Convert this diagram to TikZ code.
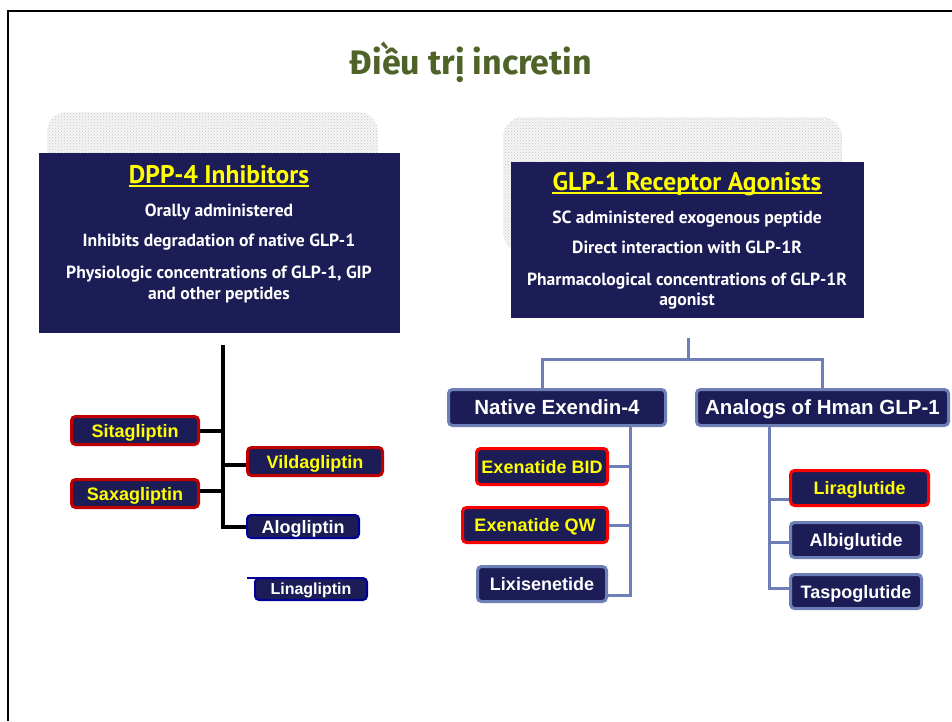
\documentclass[tikz,border=0pt]{standalone}
\usepackage{fontspec}
\setmainfont{Liberation Sans}
\newfontfamily\titlefont{Fira Sans}
\newfontfamily\bodyfont{PT Sans}
\usetikzlibrary{patterns}
\definecolor{navy}{HTML}{1C1C56}
\definecolor{darkred}{HTML}{C00000}
\definecolor{brightred}{HTML}{FF0000}
\definecolor{slate}{HTML}{6E7FB8}
\definecolor{deepblue}{HTML}{000099}
\definecolor{olive}{HTML}{4F6228}
\definecolor{hiyellow}{HTML}{FFFF00}
\tikzset{
  drug/.style={draw, fill=navy, rounded corners=4pt, inner sep=0pt,
    text height=13pt, text depth=0pt,
    font=\bfseries\fontsize{18}{20}\selectfont, align=center},
  keydrug/.style={drug, draw=darkred, line width=3pt, text=hiyellow},
  keydrugb/.style={drug, draw=brightred, line width=3pt, text=hiyellow},
  plaindrug/.style={drug, draw=deepblue, line width=2pt, text=white},
  slatedrug/.style={drug, draw=slate, line width=3pt, text=white},
  classbox/.style={drug, draw=slate, line width=3pt, text=white,
    text height=14.7pt, font=\bfseries\fontsize{20.5}{22}\selectfont},
  panel/.style={fill=navy, draw=none},
  halo/.style={pattern=crosshatch dots, pattern color=gray!45,
    rounded corners=20pt},
  hdr/.style={text=hiyellow, inner sep=0pt, anchor=base,
    font=\bodyfont\bfseries\fontsize{25.5}{28}\selectfont},
  bodyline/.style={text=white, inner sep=0pt, anchor=base,
    font=\bodyfont\bfseries\fontsize{17.6}{19}\selectfont},
  blackwire/.style={line width=4pt, black},
  slatewire/.style={line width=3pt, slate},
}
\begin{document}
\begin{tikzpicture}[x=1pt,y=-1pt]
\useasboundingbox (0,0) rectangle (952,721);
% slide frame
\draw[line width=2pt] (8,721) -- (8,10.5) -- (952,10.5);

% title
\node[anchor=base, inner sep=0pt, text=olive,
  font=\titlefont\bfseries\fontsize{34}{38}\selectfont] (title) at (471,74) {Điều trị incretin};

% dotted halos behind the two panels
\fill[gray!8,rounded corners=20pt] (47,112) rectangle (378,200);
\path[halo] (47,112) rectangle (378,200);
\fill[gray!8,rounded corners=20pt] (503,117) rectangle (842,252);
\path[halo] (503,117) rectangle (842,252);

% DPP-4 panel
\node[panel, minimum width=361pt, minimum height=180pt, inner sep=0pt] (dpp) at (219.5,243) {};
\node[hdr] (dpphdr) at (219,183) {DPP-4 Inhibitors};
\draw[hiyellow, line width=1.6pt] ([yshift=-3pt]dpphdr.base west) -- ([yshift=-3pt]dpphdr.base east);
\node[bodyline] (d1) at (219,216) {Orally administered};
\node[bodyline] (d2) at (219,246) {Inhibits degradation of native GLP-1};
\node[bodyline] (d3) at (219,278) {Physiologic concentrations of GLP-1, GIP};
\node[bodyline] (d4) at (219,299) {and other peptides};

% GLP-1 RA panel
\node[panel, minimum width=353pt, minimum height=156pt, inner sep=0pt] (glp) at (687.5,240) {};
\node[hdr] (glphdr) at (687,190) {GLP-1 Receptor Agonists};
\draw[hiyellow, line width=1.6pt] ([yshift=-3pt]glphdr.base west) -- ([yshift=-3pt]glphdr.base east);
\node[bodyline] (g1) at (687,223) {SC administered exogenous peptide};
\node[bodyline] (g2) at (687,253) {Direct interaction with GLP-1R};
\node[bodyline] (g3) at (687,285) {Pharmacological concentrations of GLP-1R};
\node[bodyline] (g4) at (687,305) {agonist};

% DPP-4 inhibitors
\node[keydrug, minimum width=127pt, minimum height=28pt] (sita) at (135,430.5) {Sitagliptin};
\node[keydrug, minimum width=135pt, minimum height=28pt] (vilda) at (315,461.5) {Vildagliptin};
\node[keydrug, minimum width=127pt, minimum height=28pt] (saxa) at (135,493.5) {Saxagliptin};
\node[plaindrug, minimum width=112pt, minimum height=23pt] (alo) at (303,526.5) {Alogliptin};
\node[plaindrug, minimum width=112pt, minimum height=22pt, text height=11.5pt,
  font=\bfseries\fontsize{16}{18}\selectfont] (lina) at (311,589) {Linagliptin};
\draw[deepblue, line width=2pt] (lina.north west) ++(4pt,-1pt) -- ++(-11pt,0);

\coordinate (ltop) at (223,345);
\draw[blackwire] (ltop) |- (alo.west);
\draw[blackwire] (sita.east) -- (sita.east -| ltop);
\draw[blackwire] ([yshift=-3pt]vilda.west) -- ([yshift=-3pt]vilda.west -| ltop);
\draw[blackwire] ([yshift=3pt]saxa.east) -- ([yshift=3pt]saxa.east -| ltop);

% GLP-1 receptor agonist classes
\node[classbox, minimum width=217pt, minimum height=36pt] (native) at (557,407.5) {Native Exendin-4};
\node[classbox, minimum width=252pt, minimum height=36pt] (analog) at (822.5,407.5) {Analogs of Hman GLP-1};

\node[keydrugb, minimum width=131pt, minimum height=36pt] (exbid) at (542,466.5) {Exenatide BID};
\node[keydrugb, minimum width=145pt, minimum height=35pt] (exqw) at (535,525) {Exenatide QW};
\node[slatedrug, minimum width=129pt, minimum height=35pt] (lixi) at (542,584) {Lixisenetide};

\node[keydrugb, minimum width=138pt, minimum height=35pt] (lira) at (859.5,488) {Liraglutide};
\node[slatedrug, minimum width=131pt, minimum height=35pt] (albi) at (856,540) {Albiglutide};
\node[slatedrug, minimum width=131pt, minimum height=34pt] (taspo) at (856,591.5) {Taspoglutide};

% connectors of the GLP-1 tree
\coordinate (rtop) at (688,338);
\coordinate (nspine) at ([xshift=73pt]native.south);
\coordinate (aspine) at ([xshift=-53.5pt]analog.south);
\draw[slatewire] (rtop) -- (rtop |- 0,359);
\draw[slatewire] ([xshift=-15pt]native.north) -- ++(0,-29) -| (analog.north);

\draw[slatewire] (nspine) |- ([yshift=-11pt]lixi.east);
\draw[slatewire] (exbid.east) -- (exbid.east -| nspine);
\draw[slatewire] (exqw.east) -- (exqw.east -| nspine);

\draw[slatewire] (aspine) |- ([yshift=3.5pt]taspo.west);
\draw[slatewire] ([yshift=-11pt]lira.west) -- ([yshift=-11pt]lira.west -| aspine);
\draw[slatewire] ([yshift=-2pt]albi.west) -- ([yshift=-2pt]albi.west -| aspine);
\end{tikzpicture}
\end{document}
